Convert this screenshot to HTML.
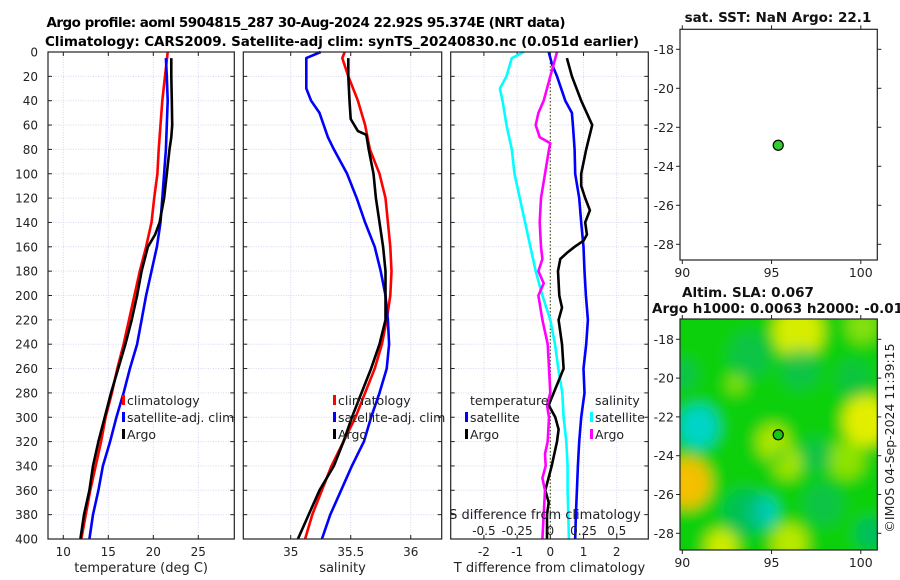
<!DOCTYPE html>
<html><head><meta charset="utf-8"><style>
html,body{margin:0;padding:0;background:#fff;}
svg{display:block;font-family:"DejaVu Sans","Liberation Sans",sans-serif;}
</style></head><body>
<svg id="fig" width="900" height="580" viewBox="0 0 900 580" xmlns="http://www.w3.org/2000/svg">
<defs>
<clipPath id="clipMap2"><rect x="680" y="319" width="197" height="231"/></clipPath>
<filter id="blur1" x="-20%" y="-20%" width="140%" height="140%"><feGaussianBlur stdDeviation="7"/></filter>
</defs>
<text x="306" y="27" font-size="13.5" font-weight="bold" text-anchor="middle" textLength="519">Argo profile: aoml 5904815_287 30-Aug-2024 22.92S 95.374E (NRT data)</text>
<text x="342" y="46" font-size="13.5" font-weight="bold" text-anchor="middle" textLength="594">Climatology: CARS2009. Satellite-adj clim: synTS_20240830.nc (0.051d earlier)</text>
<g id="layer"></g>
</svg>
<script>
// ---- data ----
const tempClimDepth = [0,20,40,60,80,100,120,140,160,180,200,220,240,260,280,300,320,340,360,380,400];
const tempClim = [21.6,21.3,21.0,20.8,20.6,20.45,20.1,19.8,19.2,18.5,17.9,17.3,16.7,16.0,15.4,14.7,14.2,13.6,13.0,12.5,12.0];
const tempSatDepth = [5,20,40,60,80,100,120,140,160,180,200,220,240,260,280,300,320,340,360,380,400];
const tempSat = [21.4,21.5,21.6,21.5,21.4,21.2,21.0,20.8,20.4,19.8,19.2,18.7,18.2,17.4,16.7,15.9,15.2,14.4,13.9,13.3,12.9];
const tempArgoDepth = [5,20,40,60,70,80,100,120,140,150,160,180,200,220,240,260,280,300,320,340,360,380,400];
const tempArgo = [22.0,22.0,22.05,22.1,22.0,21.8,21.5,21.2,20.7,20.2,19.4,18.7,18.2,17.6,16.9,16.1,15.3,14.6,13.9,13.3,12.9,12.3,11.9];

const salClimDepth = [0,5,20,40,60,80,100,120,140,160,180,200,220,240,260,280,300,320,340,360,380,400];
const salClim = [35.45,35.43,35.48,35.56,35.62,35.66,35.74,35.79,35.81,35.83,35.84,35.83,35.80,35.76,35.70,35.62,35.54,35.44,35.34,35.26,35.18,35.12];
const salSatDepth = [0,5,30,40,50,70,80,100,120,140,160,180,200,220,240,260,280,300,320,340,360,380,400];
const salSat = [35.25,35.13,35.13,35.17,35.24,35.31,35.36,35.47,35.55,35.62,35.70,35.75,35.79,35.81,35.82,35.80,35.74,35.67,35.61,35.51,35.42,35.33,35.26];
const salArgoDepth = [5,20,40,55,65,68,80,100,120,140,160,180,200,220,240,260,280,300,320,340,360,380,400];
const salArgo = [35.48,35.48,35.49,35.50,35.56,35.63,35.65,35.69,35.71,35.74,35.77,35.79,35.79,35.79,35.74,35.67,35.59,35.51,35.44,35.36,35.24,35.15,35.06];

const tDiffSatDepth = [0,10,20,40,50,60,80,100,120,140,160,180,200,220,240,260,280,300,320,340,360,380,400];
const tDiffSat = [-0.05,0.05,0.2,0.45,0.65,0.68,0.73,0.75,0.87,0.93,1.0,1.03,1.07,1.13,1.08,1.0,1.03,0.93,0.87,0.83,0.8,0.77,0.75];
const tDiffArgoDepth = [5,20,40,60,80,100,110,120,130,140,150,155,160,165,170,180,200,210,220,240,260,280,290,300,310,320,340,360,370,380,400];
const tDiffArgo = [0.5,0.65,0.93,1.26,1.08,0.93,0.93,1.05,1.19,1.05,1.1,1.0,0.73,0.5,0.3,0.23,0.27,0.35,0.25,0.35,0.4,0.1,-0.05,0.15,0.25,0.2,0.04,-0.15,-0.05,-0.1,-0.1];
const sDiffSatDepth = [0,5,20,30,40,60,80,100,120,140,160,180,200,220,240,260,280,300,320,340,360,380,400];
const sDiffSat = [-0.2,-0.29,-0.33,-0.38,-0.36,-0.33,-0.29,-0.27,-0.23,-0.19,-0.15,-0.11,-0.06,0,0.035,0.06,0.09,0.1,0.12,0.13,0.13,0.135,0.14];
const sDiffArgoDepth = [0,10,20,40,50,60,70,75,80,100,120,140,160,170,180,190,200,220,240,260,280,290,300,320,330,340,350,360,380,400];
const sDiffArgo = [0.05,0.025,0,-0.05,-0.09,-0.11,-0.08,0,-0.01,-0.04,-0.07,-0.08,-0.07,-0.06,-0.09,-0.05,-0.09,-0.06,-0.02,-0.01,0,-0.025,-0.01,-0.02,-0.04,-0.035,-0.06,-0.04,-0.05,-0.06];

const depthTicks = [0,20,40,60,80,100,120,140,160,180,200,220,240,260,280,300,320,340,360,380,400];
const tempTicks = [10,15,20,25];
const salTicks = [35,35.5,36];
const tDiffTicks = [-2,-1,0,1,2];
const sDiffTicks = [-0.5,-0.25,0,0.25,0.5];
const sDiffTickLabels = ["-0.5","-0.25","0","0.25","0.5"];

const mapLonTicks = [90,95,100];
const mapLatTicks = [-18,-20,-22,-24,-26,-28];
const argoLon = 95.374, argoLat = -22.92;
// SLA anomaly blobs: lon, lat, value (+ yellow, - cyan), radius (deg)
const slaLon = [96.5,100.3,90.3,95.1,95.9,96.0,92.2,93.0,99.2,100.1,90.9,94.5,93.5,100.5,90.0,93.8,96.6,97.5,97.9,99.6];
const slaLat = [-17.6,-22.2,-25.4,-23.3,-24.4,-28.5,-28.7,-20.3,-24.2,-17.3,-22.5,-26.9,-26.9,-28.0,-19.8,-18.8,-19.5,-24.0,-26.5,-20.0];
const slaVal = [0.8,0.85,1.0,0.6,0.55,0.65,0.75,0.4,0.45,0.4,-0.9,-0.9,-0.5,-0.6,-0.4,-0.35,-0.35,-0.35,-0.35,-0.3];
const slaRad = [1.4,1.3,1.3,0.9,0.8,1.0,0.9,0.5,1.0,0.9,1.1,0.8,1.2,0.8,0.8,1.2,1.1,0.9,1.1,1.0];

// ---- helpers ----
const NS = "http://www.w3.org/2000/svg";
const layer = document.getElementById('layer');
function mk(tag, attrs, parent){
  const e = document.createElementNS(NS, tag);
  for (const k in attrs) e.setAttribute(k, attrs[k]);
  (parent||layer).appendChild(e);
  return e;
}
const Y0 = 52, Y1 = 539;
function yDepth(d){ return Y0 + d*(Y1-Y0)/400; }
function makeX(x0, x1, v0, v1){ return v => x0 + (v - v0)*(x1 - x0)/(v1 - v0); }

const panels = [
  {name:'temperature-panel', x0:48, x1:234.3, v0:8.3, v1:29.0, ticks:tempTicks, labels:tempTicks.map(String), xlabel:'temperature (deg C)'},
  {name:'salinity-panel', x0:243.3, x1:441.7, v0:34.605, v1:36.258, ticks:salTicks, labels:salTicks.map(String), xlabel:'salinity'},
  {name:'difference-panel', x0:450.7, x1:648.3, v0:-3.0, v1:2.95, ticks:tDiffTicks, labels:tDiffTicks.map(String), xlabel:'T difference from climatology'}
];

panels.forEach((p, pi) => {
  const g = mk('g', {});
  
  
  const xs = makeX(p.x0, p.x1, p.v0, p.v1);
  p.xs = xs;
  depthTicks.forEach(d => {
    const gl = mk('line', {x1:p.x0, x2:p.x1, y1:yDepth(d), y2:yDepth(d), stroke:'#d4d8f0', 'stroke-width':1, 'stroke-dasharray':'1,1.5'}, g);
    
    
  });
  p.ticks.forEach(t => {
    const gl = mk('line', {x1:xs(t), x2:xs(t), y1:Y0, y2:Y1, stroke:'#d4d8f0', 'stroke-width':1, 'stroke-dasharray':'1,1.5'}, g);
    
    
  });
  depthTicks.forEach(d => {
    const y = yDepth(d);
    mk('line', {x1:p.x0, x2:p.x0+4, y1:y, y2:y, stroke:'#222', 'stroke-width':1}, g);
    mk('line', {x1:p.x1, x2:p.x1-4, y1:y, y2:y, stroke:'#222', 'stroke-width':1}, g);
  });
  p.ticks.forEach((t, i) => {
    const x = xs(t);
    mk('line', {x1:x, x2:x, y1:Y1, y2:Y1-4, stroke:'#222', 'stroke-width':1}, g);
    mk('line', {x1:x, x2:x, y1:Y0, y2:Y0+4, stroke:'#222', 'stroke-width':1}, g);
    const tl = mk('text', {x:x, y:556, 'font-size':12, 'text-anchor':'middle', fill:'#222'}, g);
    tl.textContent = p.labels[i];
    
    
  });
  const xl = mk('text', {x:(p.x0+p.x1)/2, y:572, 'font-size':13, 'text-anchor':'middle', fill:'#222'}, g);
  xl.textContent = p.xlabel;
  
  
  if (pi === 0) {
    depthTicks.forEach(d => {
      const tl = mk('text', {x:38, y:yDepth(d)+4.5, 'font-size':12, 'text-anchor':'end', fill:'#222'}, g);
      tl.textContent = String(d);
      
      
    });
  }
});

function series(xs, depths, vals, color, name, w){
  const pts = depths.map((d,i) => xs(vals[i]).toFixed(1)+','+yDepth(d).toFixed(1)).join(' ');
  const pl = mk('polyline', {points:pts, fill:'none', stroke:color, 'stroke-width':w||2.6, 'stroke-linejoin':'round'});
  
  
}
const P1 = panels[0].xs, P2 = panels[1].xs, P3 = panels[2].xs;
const P3s = s => P3(s*4);

const zl = mk('line', {x1:P3(0), x2:P3(0), y1:Y0, y2:Y1, stroke:'#555522', 'stroke-width':1.2, 'stroke-dasharray':'1.5,2'});



series(P1, tempClimDepth, tempClim, '#ff0000', 'temperature-climatology-line');
series(P1, tempSatDepth, tempSat, '#0000ff', 'temperature-satellite-line');
series(P1, tempArgoDepth, tempArgo, '#000000', 'temperature-argo-line');
series(P2, salClimDepth, salClim, '#ff0000', 'salinity-climatology-line');
series(P2, salSatDepth, salSat, '#0000ff', 'salinity-satellite-line');
series(P2, salArgoDepth, salArgo, '#000000', 'salinity-argo-line');
series(P3s, sDiffSatDepth, sDiffSat, '#00ffff', 'salinity-diff-satellite-line');
series(P3, tDiffSatDepth, tDiffSat, '#0000ff', 'temperature-diff-satellite-line');
series(P3, tDiffArgoDepth, tDiffArgo, '#000000', 'temperature-diff-argo-line');
series(P3s, sDiffArgoDepth, sDiffArgo, '#ff00ff', 'salinity-diff-argo-line');

panels.forEach(p => {
  const r = mk('rect', {x:p.x0, y:Y0, width:p.x1-p.x0, height:Y1-Y0, fill:'none', stroke:'#222', 'stroke-width':1.2});
  
  
});

function legendEntry(x, y, color, label, name){
  const g = mk('g', {});
  
  
  if (color) mk('rect', {x:x-5, y:y-10, width:3, height:10, fill:color}, g);
  const t = mk('text', {x:x, y:y, 'font-size':12.5, fill:'#222'}, g);
  t.textContent = label;
}
legendEntry(127, 405, '#ff0000', 'climatology', 'legend-climatology');
legendEntry(127, 422, '#0000ff', 'satellite-adj. clim', 'legend-satellite-adj');
legendEntry(127, 439, '#000000', 'Argo', 'legend-argo');
legendEntry(338, 405, '#ff0000', 'climatology', 'legend-climatology');
legendEntry(338, 422, '#0000ff', 'satellite-adj. clim', 'legend-satellite-adj');
legendEntry(338, 439, '#000000', 'Argo', 'legend-argo');
legendEntry(470, 405, null, 'temperature', 'legend-temperature-header');
legendEntry(470, 422, '#0000ff', 'satellite', 'legend-temperature-satellite');
legendEntry(470, 439, '#000000', 'Argo', 'legend-temperature-argo');
legendEntry(595, 405, null, 'salinity', 'legend-salinity-header');
legendEntry(595, 422, '#00ffff', 'satellite', 'legend-salinity-satellite');
legendEntry(595, 439, '#ff00ff', 'Argo', 'legend-salinity-argo');

const sdt = mk('text', {x:545, y:519, 'font-size':13, 'text-anchor':'middle', fill:'#222'});
sdt.textContent = 'S difference from climatology';


sDiffTicks.forEach((s, i) => {
  const t = mk('text', {x:P3s(s), y:535, 'font-size':12, 'text-anchor':'middle', fill:'#222'});
  t.textContent = sDiffTickLabels[i];
  
  
});

// ---- maps ----
const MX0 = 680, MX1 = 877.3;
const mapX = lon => 682.3 + (lon - 90)*17.85;
const maps = [
  {name:'sst-map', y0:29.3, y1:260, lat18:49.3, step:19.5, title:'sat. SST: NaN Argo: 22.1', ty:22, heat:false},
  {name:'sla-map', y0:319, y1:550, lat18:339.3, step:19.4, title:'Altim. SLA: 0.067', ty:297, heat:true}
];
maps.forEach(m => {
  const g = mk('g', {});
  
  
  const mapY = lat => m.lat18 + (-18 - lat)*m.step;
  if (m.heat) {
    const hg = mk('g', {'clip-path':'url(#clipMap2)'}, g);
    mk('rect', {x:MX0, y:m.y0, width:MX1-MX0, height:m.y1-m.y0, fill:'#10d010'}, hg);
    const bg = mk('g', {filter:'url(#blur1)'}, hg);
    mk('rect', {x:MX0-30, y:m.y0-30, width:MX1-MX0+60, height:m.y1-m.y0+60, fill:'#10d010'}, bg);
    slaVal.forEach((v, i) => {
      const col = v > 0 ? (v > 0.9 ? '#f4c000' : '#e2ee00') : (v < -0.6 ? '#00d4c8' : '#00b878');
      const a = Math.min(1, Math.abs(v)+0.15);
      const rx = slaRad[i]*17.85, ry = slaRad[i]*m.step;
      const c = mk('ellipse', {cx:mapX(slaLon[i]), cy:mapY(slaLat[i]), rx:rx, ry:ry, fill:col, opacity:a}, bg);
      
      
    });
    const hole = mk('ellipse', {cx:mapX(95.45), cy:mapY(-24.0), rx:5, ry:9, fill:'#10c81a', opacity:0.9}, bg);
    
    
    const h2 = mk('text', {x:652, y:313, 'font-size':13.5, 'font-weight':'bold', fill:'#111'}, g);
    h2.textContent = 'Argo h1000: 0.0063 h2000: -0.019';
    
    
  }
  const t = mk('text', {x: m.heat ? 682 : 778, y:m.ty, 'font-size':13.5, 'font-weight':'bold', 'text-anchor': m.heat ? 'start' : 'middle', fill:'#111'}, g);
  t.textContent = m.title;
  
  
  mk('rect', {x:MX0, y:m.y0, width:MX1-MX0, height:m.y1-m.y0, fill:'none', stroke:'#222', 'stroke-width':1.2}, g);
  mapLonTicks.forEach(lon => {
    const x = mapX(lon);
    mk('line', {x1:x, x2:x, y1:m.y1, y2:m.y1+4, stroke:'#222'}, g);
    mk('line', {x1:x, x2:x, y1:m.y0, y2:m.y0-4, stroke:'#222'}, g);
    const tl = mk('text', {x:x, y:m.y1+17, 'font-size':12.5, 'text-anchor':'middle', fill:'#222'}, g);
    tl.textContent = String(lon);
    
    
  });
  mapLatTicks.forEach(lat => {
    const y = mapY(lat);
    mk('line', {x1:MX0, x2:MX0-4, y1:y, y2:y, stroke:'#222'}, g);
    mk('line', {x1:MX1, x2:MX1+4, y1:y, y2:y, stroke:'#222'}, g);
    const tl = mk('text', {x:674, y:y+4.5, 'font-size':12.5, 'text-anchor':'end', fill:'#222'}, g);
    tl.textContent = String(lat);
    
    
  });
  const pt = mk('circle', {cx:mapX(argoLon), cy:mapY(argoLat), r:5, fill: m.heat ? '#14c814' : '#33cc33', stroke:'#000', 'stroke-width':1.2}, g);
  
  
});

const cr = mk('text', {x:0, y:0, 'font-size':12.5, 'text-anchor':'middle', fill:'#222', transform:'translate(894,438) rotate(-90)'});
cr.textContent = '©IMOS 04-Sep-2024 11:39:15';


</script>
</body></html>
